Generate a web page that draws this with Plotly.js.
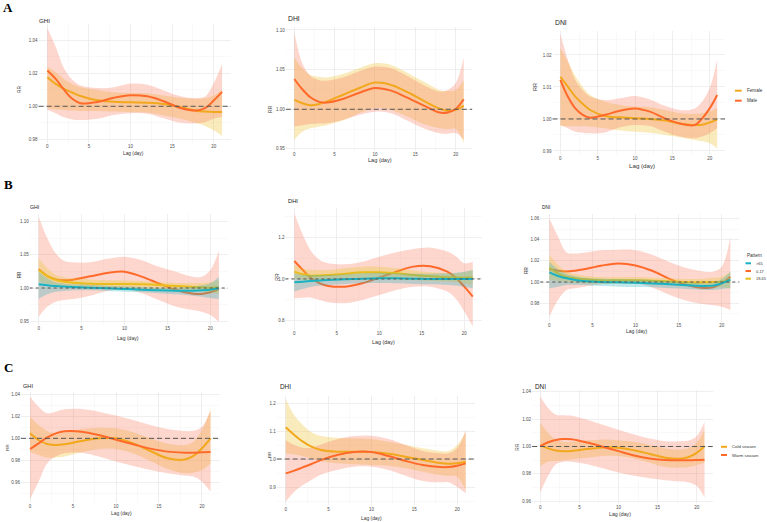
<!DOCTYPE html>
<html>
<head>
<meta charset="utf-8">
<script src="https://cdn.plot.ly/plotly-3.0.1.min.js"></script>
<style>html,body{margin:0;padding:0;background:#fff;}#chart{width:767px;height:522px;}</style>
</head>
<body>
<div id="chart"></div>
<script>
// ---------------- DATA ----------------
const LAG = [0,1,2,3,4,6,8,10,12,14,16,18,19,20,21];
const X_TICKS = [0,5,10,15,20];

// Panel A (sex)
const A_GHI_F    = [1.0175,1.0135,1.0105,1.0083,1.0062,1.0036,1.0028,1.0024,1.0022,1.0014,0.9994,0.9972,0.9968,0.9966,0.9966];
const A_GHI_F_HI = [1.0240,1.0205,1.0165,1.0135,1.0115,1.0099,1.0085,1.0080,1.0078,1.0065,1.0050,1.0045,1.0048,1.0065,1.0100];
const A_GHI_F_LO = [0.9988,0.9980,0.9978,0.9975,0.9972,0.9972,0.9968,0.9966,0.9962,0.9945,0.9925,0.9897,0.9880,0.9855,0.9821];
const A_GHI_M    = [1.0216,1.0165,1.0100,1.0045,1.0018,1.0026,1.0052,1.0067,1.0060,1.0030,0.9990,0.9975,0.9990,1.0035,1.0087];
const A_GHI_M_HI = [1.0472,1.0360,1.0230,1.0160,1.0125,1.0110,1.0115,1.0137,1.0130,1.0095,1.0060,1.0048,1.0060,1.0140,1.0256];
const A_GHI_M_LO = [0.9978,0.9958,0.9933,0.9920,0.9917,0.9925,0.9948,0.9958,0.9955,0.9927,0.9900,0.9897,0.9905,0.9925,0.9935];

const A_DHI_F    = [1.0118,1.0076,1.0050,1.0063,1.0097,1.0180,1.0265,1.0336,1.0307,1.0218,1.0109,1.0008,0.9980,0.9992,1.0042];
const A_DHI_F_HI = [1.0660,1.0517,1.0433,1.0410,1.0400,1.0445,1.0517,1.0580,1.0559,1.0462,1.0349,1.0244,1.0230,1.0244,1.0370];
const A_DHI_F_LO = [0.9613,0.9718,0.9760,0.9780,0.9800,0.9857,0.9950,1.0013,0.9992,0.9908,0.9815,0.9760,0.9750,0.9755,0.9570];
const A_DHI_M    = [1.0382,1.0252,1.0151,1.0097,1.0084,1.0130,1.0206,1.0269,1.0235,1.0147,1.0050,0.9958,0.9960,1.0004,1.0126];
const A_DHI_M_HI = [1.0979,1.0580,1.0420,1.0370,1.0360,1.0400,1.0475,1.0538,1.0517,1.0420,1.0307,1.0223,1.0244,1.0328,1.0655];
const A_DHI_M_LO = [0.9782,0.9800,0.9815,0.9820,0.9824,0.9866,0.9929,0.9970,0.9950,0.9857,0.9760,0.9697,0.9690,0.9700,0.9620];

const A_DNI_F    = [1.0132,1.0101,1.0070,1.0047,1.0028,1.0009,1.0005,1.0002,1.0000,0.9995,0.9986,0.9981,0.9982,0.9989,0.9999];
const A_DNI_F_HI = [1.0220,1.0180,1.0135,1.0100,1.0075,1.0054,1.0044,1.0039,1.0037,1.0028,1.0018,1.0016,1.0018,1.0023,1.0035];
const A_DNI_F_LO = [0.9978,0.9977,0.9977,0.9977,0.9976,0.9971,0.9964,0.9960,0.9957,0.9950,0.9943,0.9934,0.9930,0.9924,0.9908];
const A_DNI_M    = [1.0122,1.0070,1.0033,1.0013,1.0004,1.0013,1.0026,1.0033,1.0023,1.0002,0.9986,0.9981,1.0002,1.0033,1.0075];
const A_DNI_M_HI = [1.0268,1.0184,1.0122,1.0090,1.0070,1.0059,1.0065,1.0072,1.0061,1.0041,1.0028,1.0033,1.0055,1.0096,1.0184];
const A_DNI_M_LO = [0.9981,0.9971,0.9960,0.9957,0.9955,0.9958,0.9974,0.9981,0.9978,0.9960,0.9945,0.9940,0.9945,0.9955,0.9971];

// Panel B (age pattern)
const B_GHI_017    = [1.0281,1.0180,1.0130,1.0116,1.0126,1.0176,1.0226,1.0246,1.0171,1.0070,0.9970,0.9915,0.9910,0.9935,0.9985];
const B_GHI_017_HI = [1.1075,1.0750,1.0520,1.0407,1.0387,1.0387,1.0440,1.0472,1.0420,1.0322,1.0246,1.0170,1.0170,1.0271,1.0558];
const B_GHI_017_LO = [0.9568,0.9719,0.9794,0.9820,0.9834,0.9884,0.9955,0.9985,0.9920,0.9819,0.9719,0.9668,0.9643,0.9593,0.9492];
const B_GHI_1865    = [1.0271,1.0180,1.0120,1.0095,1.0080,1.0065,1.0060,1.0060,1.0055,1.0045,1.0030,1.0015,1.0010,1.0005,1.0010];
const B_GHI_1865_HI = [1.0447,1.0296,1.0196,1.0160,1.0146,1.0130,1.0120,1.0115,1.0106,1.0085,1.0075,1.0070,1.0075,1.0085,1.0120];
const B_GHI_1865_LO = [1.0095,1.0065,1.0045,1.0030,1.0015,1.0010,1.0000,1.0000,0.9990,0.9980,0.9970,0.9955,0.9945,0.9935,0.9905];
const B_GHI_65    = [1.0055,1.0042,1.0030,1.0022,1.0015,1.0005,0.9995,0.9985,0.9975,0.9965,0.9960,0.9960,0.9965,0.9975,0.9995];
const B_GHI_65_HI = [1.0246,1.0146,1.0085,1.0065,1.0055,1.0045,1.0035,1.0025,1.0015,1.0005,1.0005,1.0020,1.0040,1.0070,1.0170];
const B_GHI_65_LO = [0.9834,0.9905,0.9945,0.9955,0.9965,0.9965,0.9955,0.9945,0.9935,0.9920,0.9905,0.9885,0.9870,0.9849,0.9834];

const B_DHI_017    = [1.0867,1.0434,1.0032,0.9790,0.9663,0.9630,0.9790,1.0064,1.0353,1.0594,1.0610,1.0353,1.0064,0.9630,0.9149];
const B_DHI_017_HI = [1.3165,1.2129,1.1325,1.0916,1.0755,1.0707,1.0835,1.1076,1.1285,1.1446,1.1510,1.1325,1.1100,1.0755,1.0835];
const B_DHI_017_LO = [0.9068,0.9100,0.9100,0.8988,0.8876,0.8830,0.8988,0.9229,0.9470,0.9630,0.9630,0.9390,0.9050,0.8426,0.7703];
const B_DHI_1865    = [1.0353,1.0225,1.0160,1.0170,1.0193,1.0257,1.0321,1.0321,1.0273,1.0193,1.0129,1.0080,1.0070,1.0064,1.0080];
const B_DHI_1865_HI = [1.0675,1.0500,1.0434,1.0434,1.0434,1.0514,1.0594,1.0594,1.0514,1.0402,1.0320,1.0273,1.0273,1.0321,1.0434];
const B_DHI_1865_LO = [1.0030,0.9950,0.9904,0.9920,0.9952,1.0000,1.0064,1.0064,1.0000,0.9952,0.9904,0.9872,0.9830,0.9790,0.9710];
const B_DHI_65    = [0.9840,0.9870,0.9904,0.9930,0.9952,0.9984,1.0016,1.0030,1.0030,1.0016,1.0000,1.0000,1.0000,1.0000,1.0000];
const B_DHI_65_HI = [1.0273,1.0193,1.0193,1.0193,1.0193,1.0225,1.0273,1.0305,1.0273,1.0257,1.0257,1.0273,1.0300,1.0353,1.0434];
const B_DHI_65_LO = [0.9390,0.9520,0.9630,0.9670,0.9710,0.9760,0.9790,0.9807,0.9790,0.9760,0.9743,0.9710,0.9680,0.9630,0.9550];

const B_DNI_017    = [1.0120,1.0107,1.0100,1.0107,1.0120,1.0154,1.0176,1.0157,1.0104,1.0028,0.9972,0.9943,0.9950,0.9987,1.0050];
const B_DNI_017_HI = [1.0600,1.0430,1.0280,1.0270,1.0277,1.0300,1.0306,1.0300,1.0255,1.0186,1.0129,1.0098,1.0098,1.0145,1.0428];
const B_DNI_017_LO = [0.9672,0.9830,0.9924,0.9940,0.9956,0.9978,0.9997,0.9988,0.9946,0.9877,0.9820,0.9789,0.9780,0.9767,0.9735];
const B_DNI_1865    = [1.0135,1.0082,1.0047,1.0035,1.0025,1.0016,1.0016,1.0016,1.0013,1.0006,0.9997,0.9997,1.0000,1.0003,1.0016];
const B_DNI_1865_HI = [1.0255,1.0160,1.0098,1.0075,1.0060,1.0047,1.0047,1.0047,1.0041,1.0035,1.0028,1.0032,1.0040,1.0050,1.0098];
const B_DNI_1865_LO = [1.0019,1.0010,0.9997,0.9990,0.9987,0.9984,0.9981,0.9981,0.9978,0.9972,0.9962,0.9956,0.9950,0.9949,0.9940];
const B_DNI_65    = [1.0091,1.0057,1.0035,1.0020,1.0009,1.0000,0.9997,0.9994,0.9987,0.9978,0.9969,0.9962,0.9966,0.9987,1.0022];
const B_DNI_65_HI = [1.0192,1.0120,1.0076,1.0055,1.0041,1.0031,1.0028,1.0025,1.0019,1.0010,0.9997,0.9987,0.9995,1.0028,1.0098];
const B_DNI_65_LO = [0.9940,0.9956,0.9972,0.9972,0.9972,0.9962,0.9956,0.9953,0.9950,0.9940,0.9934,0.9925,0.9925,0.9934,0.9940];

// Panel C (season)
const C_GHI_C    = [1.0045,0.9985,0.9949,0.9940,0.9946,0.9976,1.0000,1.0000,0.9955,0.9886,0.9820,0.9808,0.9841,0.9910,1.0000];
const C_GHI_C_HI = [1.0195,1.0120,1.0066,1.0045,1.0054,1.0084,1.0096,1.0090,1.0054,1.0000,0.9952,0.9940,0.9970,1.0075,1.0256];
const C_GHI_C_LO = [0.9880,0.9850,0.9826,0.9826,0.9835,0.9874,0.9904,0.9904,0.9865,0.9795,0.9723,0.9684,0.9690,0.9714,0.9774];
const C_GHI_W    = [0.9904,0.9955,1.0009,1.0045,1.0063,1.0060,1.0030,0.9988,0.9946,0.9907,0.9880,0.9871,0.9871,0.9874,0.9877];
const C_GHI_W_HI = [1.0376,1.0286,1.0226,1.0241,1.0262,1.0265,1.0241,1.0205,1.0165,1.0120,1.0084,1.0066,1.0068,1.0105,1.0256];
const C_GHI_W_LO = [0.9453,0.9609,0.9774,0.9835,0.9865,0.9870,0.9835,0.9790,0.9750,0.9714,0.9684,0.9663,0.9655,0.9609,0.9519];

const C_DHI_C    = [1.1131,1.0857,1.0619,1.0440,1.0333,1.0262,1.0262,1.0250,1.0190,1.0083,0.9964,0.9857,0.9833,0.9845,0.9905];
const C_DHI_C_HI = [1.2155,1.1560,1.1214,1.0952,1.0833,1.0762,1.0738,1.0714,1.0619,1.0500,1.0381,1.0286,1.0286,1.0500,1.0952];
const C_DHI_C_LO = [1.0200,1.0160,1.0100,1.0020,0.9929,0.9845,0.9810,0.9786,0.9762,0.9667,0.9548,0.9429,0.9400,0.9369,0.8893];
const C_DHI_W    = [0.9488,0.9583,0.9702,0.9821,0.9952,1.0143,1.0250,1.0250,1.0107,0.9929,0.9786,0.9714,0.9714,0.9762,0.9845];
const C_DHI_W_HI = [1.0679,1.0500,1.0405,1.0405,1.0500,1.0702,1.0821,1.0833,1.0714,1.0500,1.0286,1.0202,1.0202,1.0381,1.1036];
const C_DHI_W_LO = [0.8476,0.8833,0.9071,0.9250,0.9429,0.9607,0.9726,0.9726,0.9607,0.9405,0.9214,0.9167,0.9167,0.9000,0.8774];

const C_DNI_C    = [1.0010,0.9986,0.9971,0.9966,0.9968,0.9981,0.9993,0.9990,0.9973,0.9945,0.9918,0.9911,0.9923,0.9954,1.0002];
const C_DNI_C_HI = [1.0171,1.0099,1.0051,1.0034,1.0034,1.0043,1.0051,1.0046,1.0034,1.0010,0.9986,0.9978,0.9990,1.0027,1.0123];
const C_DNI_C_LO = [0.9858,0.9889,0.9894,0.9900,0.9906,0.9918,0.9930,0.9930,0.9913,0.9882,0.9850,0.9846,0.9850,0.9865,0.9882];
const C_DNI_W    = [1.0002,1.0031,1.0048,1.0055,1.0053,1.0029,0.9998,0.9966,0.9935,0.9913,0.9901,0.9899,0.9899,0.9901,0.9904];
const C_DNI_W_HI = [1.0364,1.0280,1.0231,1.0227,1.0225,1.0195,1.0159,1.0123,1.0087,1.0058,1.0039,1.0039,1.0044,1.0075,1.0178];
const C_DNI_W_LO = [0.9665,0.9786,0.9870,0.9889,0.9889,0.9870,0.9841,0.9810,0.9786,0.9769,0.9754,0.9745,0.9738,0.9713,0.9629];

const PANEL_TITLES = ['GHI','DHI','DNI','GHI','DHI','DNI','GHI','DHI','DNI'];
const SEX_LABELS = ['Female','Male'];
const AGE_LABELS = ['>65','0-17','18-65'];
const SEASON_LABELS = ['Cold season','Warm season'];
const AGE_LEGEND_TITLE = 'Pattern';
const X_TITLE = 'Lag (day)';
const Y_TITLE = 'RR';
const ROW_LETTERS = ['A','B','C'];

// ---------------- STYLE ----------------
const W = 767, H = 522;
const FONT = 'Liberation Sans, Arial, sans-serif';
const COL = {
  gold:'#F2A81D', red:'#FF6A2B', yellow:'#E9BD1B', cyan:'#19B2C2',
  goldBand:'rgba(240,200,70,0.36)', redBand:'rgba(250,118,92,0.30)',
  yellowBand:'rgba(232,200,40,0.32)', cyanBand:'rgba(40,178,190,0.30)'
};
// pixel boxes [left, top, right, bottom] of each panel
const P = [
  {box:[38.6,23.5,230.8,142.7], yr:[0.978,1.050], d:0.02, f:'.2f', ref:'5px,3px', title:[36.7,20.7,6.2], lag:[133,153,4.8], rr:[19,90,4.8]},
  {box:[285.8,26.8,472.2,150.5], yr:[0.948,1.104], d:0.05, f:'.2f', ref:'5px,3px', title:[286,19,6.8], lag:[380,160,5.6], rr:[270,109,5.2]},
  {box:[552.5,31,725,154.8], yr:[0.9888,1.0275], d:0.01, f:'.2f', ref:'5px,3px', title:[553.3,22,6.8], lag:[641.7,165.7,6.2], rr:[535,87,5.6]},
  {box:[29.7,213.7,227.9,324.5], yr:[0.945,1.112], d:0.05, f:'.2f', ref:'dot', title:[28.3,207,5.2], lag:[128.3,338,5.1], rr:[19.3,275,4.6]},
  {box:[285.4,208.2,481.7,329.8], yr:[0.755,1.341], d:0.2, f:'.1f', ref:'dot', title:[285.7,201,5.8], lag:[383.3,341.7,5.4], rr:[276.7,277,5]},
  {box:[540.3,214.3,739.4,321.7], yr:[0.9625,1.064], d:0.02, f:'.2f', ref:'dot', title:[540.3,207.7,4.8], lag:[636.7,330.7,5], rr:[525.7,270,4.6]},
  {box:[21,391.8,219.6,502.6], yr:[0.942,1.042], d:0.02, f:'.2f', ref:'5px,3px', title:[20.7,386,5.6], lag:[121.7,513.7,4.9], rr:[6.7,448,4.4]},
  {box:[276.7,396,474.7,505.2], yr:[0.835,1.225], d:0.1, f:'.1f', ref:'5px,3px', title:[277.7,386.7,6.4], lag:[371.7,518.3,4.9], rr:[269,455,4.4]},
  {box:[532.1,390,712.7,503.4], yr:[0.9585,1.0412], d:0.02, f:'.2f', ref:'5px,3px', title:[533.3,386.3,6.4], lag:[620,513.5,5.2], rr:[516.7,447,4.8]}
];

// ---------------- BUILD ----------------
const traces = [];
function ax(i){ return i===0 ? '' : String(i+1); }
function band(i, lo, hi, fill){
  const s = ax(i);
  traces.push({x:LAG, y:lo, xaxis:'x'+s, yaxis:'y'+s, mode:'lines', line:{width:0, shape:'spline', smoothing:1}, hoverinfo:'skip', showlegend:false});
  traces.push({x:LAG, y:hi, xaxis:'x'+s, yaxis:'y'+s, mode:'lines', line:{width:0, shape:'spline', smoothing:1}, fill:'tonexty', fillcolor:fill, hoverinfo:'skip', showlegend:false});
}
function line(i, y, color, name){
  const s = ax(i);
  traces.push({x:LAG, y:y, xaxis:'x'+s, yaxis:'y'+s, mode:'lines', name:name, line:{width:2, color:color, shape:'spline', smoothing:1}, showlegend:false});
}
// A
[[A_GHI_F,A_GHI_F_LO,A_GHI_F_HI,A_GHI_M,A_GHI_M_LO,A_GHI_M_HI],
 [A_DHI_F,A_DHI_F_LO,A_DHI_F_HI,A_DHI_M,A_DHI_M_LO,A_DHI_M_HI],
 [A_DNI_F,A_DNI_F_LO,A_DNI_F_HI,A_DNI_M,A_DNI_M_LO,A_DNI_M_HI]].forEach((d,k)=>{
  band(k, d[1], d[2], COL.goldBand); band(k, d[4], d[5], COL.redBand);
  line(k, d[0], COL.gold, SEX_LABELS[0]); line(k, d[3], COL.red, SEX_LABELS[1]);
});
// B
[[B_GHI_017,B_GHI_017_LO,B_GHI_017_HI,B_GHI_1865,B_GHI_1865_LO,B_GHI_1865_HI,B_GHI_65,B_GHI_65_LO,B_GHI_65_HI],
 [B_DHI_017,B_DHI_017_LO,B_DHI_017_HI,B_DHI_1865,B_DHI_1865_LO,B_DHI_1865_HI,B_DHI_65,B_DHI_65_LO,B_DHI_65_HI],
 [B_DNI_017,B_DNI_017_LO,B_DNI_017_HI,B_DNI_1865,B_DNI_1865_LO,B_DNI_1865_HI,B_DNI_65,B_DNI_65_LO,B_DNI_65_HI]].forEach((d,k)=>{
  const i = 3+k;
  band(i, d[1], d[2], COL.redBand); line(i, d[0], COL.red, AGE_LABELS[1]);
  band(i, d[4], d[5], COL.yellowBand); line(i, d[3], COL.yellow, AGE_LABELS[2]);
  band(i, d[7], d[8], COL.cyanBand); line(i, d[6], COL.cyan, AGE_LABELS[0]);
});
// C
[[C_GHI_C,C_GHI_C_LO,C_GHI_C_HI,C_GHI_W,C_GHI_W_LO,C_GHI_W_HI],
 [C_DHI_C,C_DHI_C_LO,C_DHI_C_HI,C_DHI_W,C_DHI_W_LO,C_DHI_W_HI],
 [C_DNI_C,C_DNI_C_LO,C_DNI_C_HI,C_DNI_W,C_DNI_W_LO,C_DNI_W_HI]].forEach((d,k)=>{
  const i = 6+k;
  band(i, d[1], d[2], COL.goldBand); band(i, d[4], d[5], COL.redBand);
  line(i, d[0], COL.gold, SEASON_LABELS[0]); line(i, d[3], COL.red, SEASON_LABELS[1]);
});

const layout = {
  width:W, height:H, margin:{l:0,r:0,t:0,b:0},
  paper_bgcolor:'#fff', plot_bgcolor:'#fff',
  font:{family:FONT, color:'#333'},
  showlegend:false, annotations:[], shapes:[]
};
const px = v => v/W, py = v => 1 - v/H;
P.forEach((p,i)=>{
  const s = ax(i);
  const [l,t,r,b] = p.box;
  layout['xaxis'+s] = {
    domain:[px(l),px(r)], anchor:'y'+s, range:[-1.05,22.05],
    tickvals:X_TICKS, ticks:'', showline:false, zeroline:false,
    showgrid:true, gridcolor:'#EBEBEB', gridwidth:0.8,
    minor:{dtick:2.5, tick0:0, showgrid:true, gridcolor:'#F4F4F4', gridwidth:0.5},
    tickfont:{size:4.5, color:'#4D4D4D', family:FONT}, fixedrange:true
  };
  layout['yaxis'+s] = {
    domain:[py(b),py(t)], anchor:'x'+s, range:p.yr,
    tick0:0, dtick:p.d, tickformat:p.f, ticks:'', showline:false, zeroline:false,
    showgrid:true, gridcolor:'#EBEBEB', gridwidth:0.8,
    minor:{dtick:p.d/2, showgrid:true, gridcolor:'#F4F4F4', gridwidth:0.5},
    tickfont:{size:4.5, color:'#4D4D4D', family:FONT}, fixedrange:true
  };
  layout.shapes.push({type:'line', xref:'x'+s+' domain', x0:0, x1:1, yref:'y'+s, y0:1, y1:1,
    line:{color:'#555', width:1, dash:p.ref}, layer:'above'});
  layout.annotations.push({text:PANEL_TITLES[i], xref:'paper', yref:'paper', x:px(p.title[0]), y:py(p.title[1]),
    xanchor:'left', yanchor:'middle', showarrow:false, font:{size:p.title[2], color:'#1a1a1a'}});
  layout.annotations.push({text:X_TITLE, xref:'paper', yref:'paper', x:px(p.lag[0]), y:py(p.lag[1]),
    xanchor:'center', yanchor:'middle', showarrow:false, font:{size:p.lag[2], color:'#333'}});
  layout.annotations.push({text:Y_TITLE, xref:'paper', yref:'paper', x:px(p.rr[0]), y:py(p.rr[1]),
    xanchor:'center', yanchor:'middle', textangle:-90, showarrow:false, font:{size:p.rr[2], color:'#333'}});
});
// row letters
[[8,7],[8,184],[8,367]].forEach((q,k)=>{
  layout.annotations.push({text:'<b>'+ROW_LETTERS[k]+'</b>', xref:'paper', yref:'paper', x:px(q[0]), y:py(q[1]),
    xanchor:'center', yanchor:'middle', showarrow:false, font:{family:'Liberation Serif, Times New Roman, serif', size:13, color:'#000'}});
});
// manual legends
function legItem(x0,x1,y,color,label,tx,size){
  layout.shapes.push({type:'line', xref:'paper', yref:'paper', x0:px(x0), x1:px(x1), y0:py(y), y1:py(y), line:{color:color, width:2}});
  layout.annotations.push({text:label, xref:'paper', yref:'paper', x:px(tx), y:py(y), xanchor:'left', yanchor:'middle', showarrow:false, font:{size:size, color:'#333'}});
}
legItem(735,741.7,90.7,COL.gold,SEX_LABELS[0],745,4.6);
legItem(735,741.7,100.7,COL.red,SEX_LABELS[1],745,4.6);
layout.annotations.push({text:AGE_LEGEND_TITLE, xref:'paper', yref:'paper', x:px(745), y:py(255), xanchor:'left', yanchor:'middle', showarrow:false, font:{size:4.6, color:'#333'}});
legItem(745.5,751,263.3,COL.cyan,AGE_LABELS[0],753.5,3.9);
legItem(745.5,751,271,COL.red,AGE_LABELS[1],753.5,3.9);
legItem(745.5,751,278.7,COL.yellow,AGE_LABELS[2],753.5,3.9);
legItem(721,727,446.8,COL.gold,SEASON_LABELS[0],729.5,4.3);
legItem(721,727,455,COL.red,SEASON_LABELS[1],729.5,4.3);

Plotly.newPlot('chart', traces, layout, {staticPlot:true, displayModeBar:false});
</script>
</body>
</html>
